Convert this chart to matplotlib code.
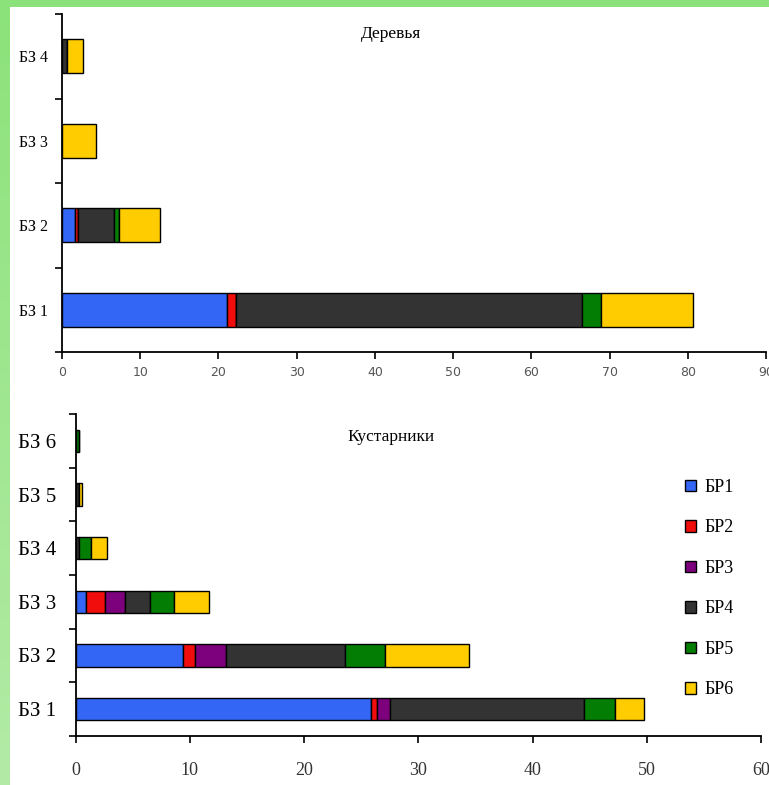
import numpy as np
import matplotlib.pyplot as plt
from matplotlib.patches import Rectangle
from matplotlib.colors import LinearSegmentedColormap

# data
series = ['БР1', 'БР2', 'БР3', 'БР4', 'БР5', 'БР6']
colors = ['#3366f5', '#f20d0d', '#7d007d', '#333333', '#047d04', '#ffcc00']

tree_cats = ['БЗ 1', 'БЗ 2', 'БЗ 3', 'БЗ 4']
tree_br1 = [21.1, 1.6, 0, 0]
tree_br2 = [1.2, 0.5, 0, 0]
tree_br3 = [0, 0, 0, 0]
tree_br4 = [44.2, 4.5, 0, 0.6]
tree_br5 = [2.4, 0.7, 0, 0]
tree_br6 = [11.8, 5.2, 4.35, 2.1]

shrub_cats = ['БЗ 1', 'БЗ 2', 'БЗ 3', 'БЗ 4', 'БЗ 5', 'БЗ 6']
shrub_br1 = [25.85, 9.4, 0.9, 0, 0, 0]
shrub_br2 = [0.55, 1.1, 1.7, 0, 0, 0]
shrub_br3 = [1.1, 2.7, 1.75, 0, 0, 0]
shrub_br4 = [17.0, 10.35, 2.15, 0.3, 0.3, 0]
shrub_br5 = [2.7, 3.55, 2.1, 1.1, 0, 0.35]
shrub_br6 = [2.6, 7.35, 3.1, 1.4, 0.25, 0]

tree_vals = [tree_br1, tree_br2, tree_br3, tree_br4, tree_br5, tree_br6]
shrub_vals = [shrub_br1, shrub_br2, shrub_br3, shrub_br4, shrub_br5, shrub_br6]

W, H = 769, 785
fig = plt.figure(figsize=(W / 100, H / 100), dpi=100)
fig.patch.set_facecolor('white')

# green frame (top strip + left strip)
bg = fig.add_axes([0, 0, 1, 1], zorder=-10)
bg.axis('off')
grad = np.linspace(0, 1, 200).reshape(-1, 1)
gcm = LinearSegmentedColormap.from_list('g', ['#8ce27a', '#b3eba6'])
bg.imshow(grad, cmap=gcm, extent=[0, 10, H, 0], aspect='auto')
bg.add_patch(Rectangle((0, 0), W, 7, color='#8ce27a', lw=0))
bg.set_xlim(0, W)
bg.set_ylim(H, 0)


def stacked(ax, cats, vals, height):
    y = np.arange(len(cats))
    left = np.zeros(len(cats))
    handles = []
    for name, v, c in zip(series, vals, colors):
        v = np.array(v, dtype=float)
        h = ax.barh(y, v, left=left, height=height, color=c,
                    edgecolor='black', linewidth=1, label=name)
        handles.append(h)
        left += v
    ax.set_ylim(-0.5, len(cats) - 0.5)
    ax.set_yticks(np.arange(-0.5, len(cats), 1))
    ax.set_yticklabels([])
    ax.set_yticks(y, cats, minor=True)
    ax.tick_params(axis='y', which='minor', length=0)
    ax.tick_params(axis='y', which='major', length=5, width=1.2, direction='out')
    ax.tick_params(axis='x', length=5, width=1.2, direction='out')
    for s in ['top', 'right']:
        ax.spines[s].set_visible(False)
    for s in ['left', 'bottom']:
        ax.spines[s].set_linewidth(1.3)
    return handles


serif = 'Liberation Serif'

# top chart: trees
ax1 = fig.add_axes([62 / W, 1 - 352 / H, (766 - 62) / W, (352 - 14) / H])
stacked(ax1, tree_cats, tree_vals, 0.4)
ax1.set_xlim(0, 90)
ax1.set_xticks(np.arange(0, 91, 10))
ax1.tick_params(axis='x', labelsize=9, labelcolor='#555555', pad=5)
for t in ax1.get_xticklabels():
    t.set_family('DejaVu Sans')
ax1.tick_params(axis='y', which='minor', labelsize=11.5, pad=10)
for t in ax1.get_yticklabels(minor=True):
    t.set_family(serif)
fig.text(391 / W, 1 - 34 / H, 'Деревья', ha='center', va='center',
         family=serif, fontsize=12.5)

# bottom chart: shrubs
ax2 = fig.add_axes([75.5 / W, 1 - 735.7 / H, (761 - 75.5) / W, (735.7 - 414.3) / H])
hs = stacked(ax2, shrub_cats, shrub_vals, 0.42)
ax2.set_xlim(0, 60)
ax2.set_xticks(np.arange(0, 61, 10))
ax2.tick_params(axis='x', labelsize=13, labelcolor='#333333', pad=14)
for t in ax2.get_xticklabels():
    t.set_family(serif)
ax2.tick_params(axis='y', which='minor', labelsize=15, pad=14)
for t in ax2.get_yticklabels(minor=True):
    t.set_family(serif)
fig.text(391 / W, 1 - 437 / H, 'Кустарники', ha='center', va='center',
         family=serif, fontsize=12.5)

leg = fig.legend(handles=hs, labels=series, loc='upper left',
                 bbox_to_anchor=(676 / W, 1 - 470 / H), frameon=False,
                 prop={'family': serif, 'size': 13}, handlelength=0.6,
                 handleheight=0.6, handletextpad=0.5, labelspacing=1.3,
                 borderpad=0)
for p in leg.get_patches():
    p.set_linewidth(1)

fig.savefig('out.png', dpi=100)
